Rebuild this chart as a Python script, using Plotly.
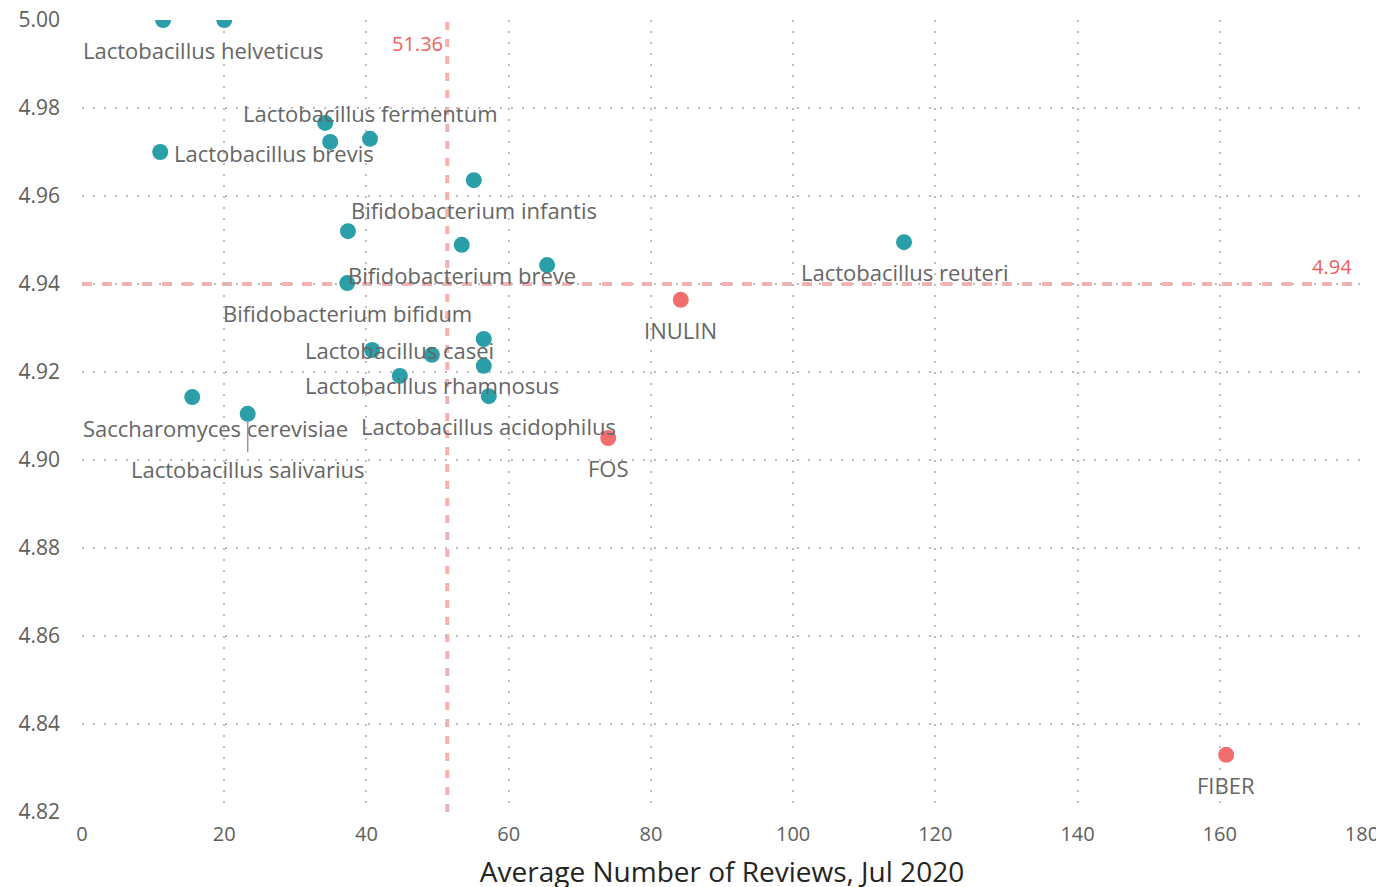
import plotly.graph_objects as go

# probiotic strains (teal)
probiotic_x = [11.4, 20.0, 34.2, 34.9, 40.5, 11.0, 55.1, 37.4, 53.4, 65.4,
               37.3, 115.6, 56.5, 40.8, 49.2, 56.5, 44.7, 57.2, 15.5, 23.3]
probiotic_y = [5.000, 5.000, 4.9766, 4.9723, 4.9730, 4.9700, 4.9636, 4.9520, 4.9489, 4.9443,
               4.9402, 4.9495, 4.9275, 4.9250, 4.9239, 4.9214, 4.9191, 4.9145, 4.9143, 4.9105]
probiotic_labels = ["Lactobacillus helveticus", "", "", "", "Lactobacillus fermentum",
                    "Lactobacillus brevis", "Bifidobacterium infantis", "", "Bifidobacterium breve", "",
                    "Bifidobacterium bifidum", "Lactobacillus reuteri", "", "", "Lactobacillus rhamnosus",
                    "", "Lactobacillus casei", "Lactobacillus acidophilus", "Saccharomyces cerevisiae",
                    "Lactobacillus salivarius"]

# prebiotics (red)
prebiotic_x = [84.2, 74.0, 160.9]
prebiotic_y = [4.9364, 4.905, 4.833]
prebiotic_labels = ["INULIN", "FOS", "FIBER"]

# reference lines (averages)
avg_reviews = 51.36
avg_rating = 4.94

x_ticks = [0, 20, 40, 60, 80, 100, 120, 140, 160, 180]
y_ticks = [4.82, 4.84, 4.86, 4.88, 4.90, 4.92, 4.94, 4.96, 4.98, 5.00]

TEAL = '#2A9FA8'
RED = '#F26D6D'
REF = 'rgba(246,150,150,0.75)'
FONT = 'Segoe UI, Open Sans, sans-serif'
LABEL_COLOR = '#666666'

fig = go.Figure()

fig.add_trace(go.Scatter(x=probiotic_x, y=probiotic_y, mode='markers',
                         marker=dict(size=16, color=TEAL), showlegend=False))
fig.add_trace(go.Scatter(x=prebiotic_x, y=prebiotic_y, mode='markers',
                         marker=dict(size=16, color=RED), showlegend=False))

# reference lines
fig.add_shape(type='line', xref='x', yref='paper', x0=avg_reviews, x1=avg_reviews, y0=0, y1=1,
              line=dict(color=REF, width=4, dash='8px,9px'), layer='below')
fig.add_shape(type='line', xref='paper', yref='y', x0=0, x1=1, y0=avg_rating, y1=avg_rating,
              line=dict(color=REF, width=4, dash='10px,10px'), layer='below')

annotations = [
    dict(x=avg_reviews, y=1, xref='x', yref='paper', text=f'{avg_reviews:.2f}', showarrow=False,
         xanchor='right', yanchor='top', xshift=-2, yshift=-8,
         font=dict(family=FONT, size=20, color='#F05F5F')),
    dict(x=1, y=avg_rating, xref='paper', yref='y', text=f'{avg_rating:.2f}', showarrow=False,
         xanchor='right', yanchor='bottom', xshift=-8, yshift=2,
         font=dict(family=FONT, size=20, color='#F05F5F')),
]

# label placement tweaks (pixel offsets)
placement = {
    'Lactobacillus helveticus': dict(xshift=40, yshift=-30),
    'Lactobacillus fermentum': dict(yshift=26),
    'Lactobacillus brevis': dict(xanchor='left', xshift=12, yshift=-1),
    'Lactobacillus casei': dict(yshift=26),
    'Saccharomyces cerevisiae': dict(xshift=23, yshift=-31),
}

all_x = probiotic_x + prebiotic_x
all_y = probiotic_y + prebiotic_y
all_labels = probiotic_labels + prebiotic_labels

for x, y, lab in zip(all_x, all_y, all_labels):
    if not lab:
        continue
    ann = dict(x=x, y=y, xref='x', yref='y', text=lab, showarrow=False,
               font=dict(family=FONT, size=22, color=LABEL_COLOR))
    if lab == 'Lactobacillus salivarius':
        ann.update(showarrow=True, ax=0, ay=55, arrowhead=0, arrowwidth=1.5,
                   arrowcolor='#999999', standoff=7)
    else:
        ann.update(dict(xshift=0, yshift=-30))
        ann.update(placement.get(lab, {}))
    annotations.append(ann)

# page body has an 8px margin, so the figure sits 8px right/down
fig.update_layout(
    width=1384, height=887,
    margin=dict(l=74, r=30, t=12, b=83),
    plot_bgcolor='white', paper_bgcolor='white',
    font=dict(family=FONT, color='#605E5C'),
    annotations=annotations,
)

fig.update_xaxes(range=[0, 180], tickvals=x_ticks, showline=False, zeroline=False,
                 showgrid=True, gridcolor='#BDBDBD', gridwidth=1.5, griddash='2px,9px',
                 tickfont=dict(size=20, color='#605E5C'), ticks='', ticklen=0, automargin=False,
                 ticklabelstandoff=8, ticklabeloverflow='allow',
                 title=dict(text='Average Number of Reviews, Jul 2020', standoff=16,
                            font=dict(size=28, color='#252423')))
fig.update_yaxes(range=[4.82, 5.00], tickvals=y_ticks, tickformat='.2f', showline=False,
                 zeroline=False, showgrid=True, gridcolor='#BDBDBD', gridwidth=1.5,
                 griddash='2px,9px', tickfont=dict(size=21, color='#605E5C'), ticks='',
                 ticklabelstandoff=21, automargin=False, ticklabeloverflow='allow')

# no scrollbars, so the right edge isn't eaten
fig.write_html("out.html", post_script="document.body.style.overflow='hidden';")
